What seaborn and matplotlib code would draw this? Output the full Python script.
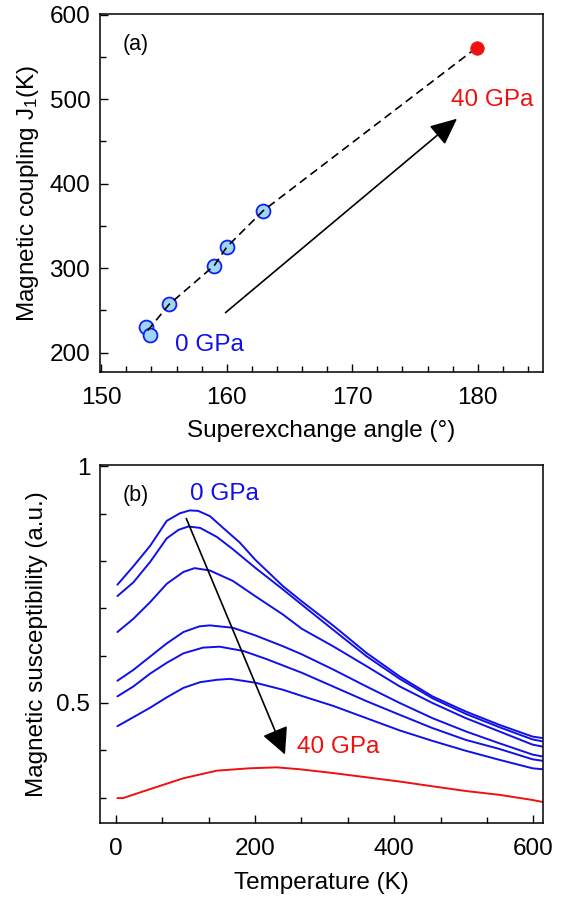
import numpy as np
import pandas as pd
import seaborn as sns
import matplotlib.pyplot as plt
from matplotlib.ticker import MultipleLocator, FixedLocator

# --- panel (a): J1 vs superexchange angle ---
angle = [153.55, 153.86, 155.4, 159.0, 160.0, 162.9]
j1 = [230, 221, 257, 303, 325, 368]
angle_40 = [179.9]
j1_40 = [561]

# dashed guide through points (ordered)
guide_angle = [153.7, 155.4, 159.0, 160.0, 162.9, 179.9]
guide_j1 = [226, 257, 303, 325, 368, 561]

# --- panel (b): susceptibility vs temperature ---
T1 = [2, 25, 49, 73, 92, 106, 118, 135, 154, 178, 200, 240, 267, 312, 360, 408, 455, 503, 551, 599, 613]
chi1 = [0.750, 0.789, 0.832, 0.885, 0.901, 0.907, 0.906, 0.895, 0.870, 0.839, 0.803, 0.747, 0.715, 0.664,
        0.606, 0.556, 0.514, 0.482, 0.454, 0.429, 0.426]
T2 = [2, 25, 49, 73, 90, 104, 121, 145, 168, 200, 240, 267, 312, 360, 408, 455, 503, 551, 599, 613]
chi2 = [0.726, 0.755, 0.798, 0.848, 0.866, 0.873, 0.870, 0.851, 0.825, 0.786, 0.740, 0.708, 0.655, 0.599,
        0.551, 0.510, 0.477, 0.449, 0.423, 0.419]
T3 = [2, 25, 49, 73, 97, 113, 135, 168, 200, 240, 267, 312, 360, 408, 455, 503, 551, 599, 613]
chi3 = [0.650, 0.678, 0.713, 0.752, 0.777, 0.785, 0.780, 0.758, 0.726, 0.687, 0.657, 0.620, 0.578,
        0.535, 0.500, 0.468, 0.440, 0.412, 0.408]
T4 = [2, 25, 49, 73, 97, 120, 135, 168, 200, 240, 267, 312, 360, 408, 455, 503, 551, 599, 613]
chi4 = [0.547, 0.570, 0.598, 0.626, 0.650, 0.662, 0.664, 0.659, 0.643, 0.620, 0.603, 0.571, 0.535,
        0.500, 0.468, 0.440, 0.415, 0.391, 0.387]
T5 = [2, 25, 49, 73, 97, 125, 149, 183, 216, 267, 312, 360, 408, 455, 503, 551, 599, 613]
chi5 = [0.514, 0.535, 0.562, 0.585, 0.605, 0.617, 0.619, 0.610, 0.593, 0.564, 0.535, 0.504, 0.475,
        0.447, 0.422, 0.403, 0.381, 0.378]
T6 = [2, 25, 49, 73, 97, 121, 145, 164, 200, 240, 267, 312, 360, 408, 455, 503, 551, 599, 613]
chi6 = [0.451, 0.470, 0.490, 0.512, 0.532, 0.544, 0.549, 0.551, 0.543, 0.528, 0.515, 0.494, 0.468,
        0.442, 0.420, 0.399, 0.380, 0.362, 0.360]
T40 = [2, 10, 49, 97, 145, 192, 231, 264, 312, 360, 408, 455, 503, 551, 599, 613]
chi40 = [0.299, 0.299, 0.318, 0.341, 0.357, 0.362, 0.364, 0.360, 0.352, 0.343, 0.334, 0.324, 0.314,
         0.306, 0.295, 0.291]

curves = [("c1", T1, chi1), ("c2", T2, chi2), ("c3", T3, chi3), ("c4", T4, chi4),
          ("c5", T5, chi5), ("c6", T6, chi6), ("c40", T40, chi40)]
rows = []
for name, ts, cs in curves:
    for t, c in zip(ts, cs):
        rows.append({"curve": name, "T": t, "chi": c})
df_b = pd.DataFrame(rows)
palette = {"c1": "#1010e8", "c2": "#1010e8", "c3": "#1010e8", "c4": "#1010e8",
           "c5": "#1010e8", "c6": "#1010e8", "c40": "#f01010"}

sns.set_theme(style="ticks")
plt.rcParams['font.family'] = ['Liberation Sans', 'DejaVu Sans']
plt.rcParams['mathtext.fontset'] = 'custom'
plt.rcParams['mathtext.rm'] = 'Liberation Sans'
plt.rcParams['mathtext.it'] = 'Liberation Sans:italic'
plt.rcParams['axes.linewidth'] = 1.1
for key in ('text.color', 'axes.labelcolor', 'xtick.color', 'ytick.color', 'axes.edgecolor'):
    plt.rcParams[key] = 'black'

fs = 17.5
fig = plt.figure(figsize=(5.67, 9.02), dpi=100)
ax1 = fig.add_axes([0.1764, 0.5876, 0.7813, 0.3969])
ax2 = fig.add_axes([0.1764, 0.0879, 0.7813, 0.3966])

# panel (a)
ax1.plot(guide_angle, guide_j1, color="black", lw=1.2, ls=(0, (5, 3)), zorder=4)
sns.scatterplot(x=angle, y=j1, ax=ax1, s=100, color="#9fd6f7", edgecolor="#1020f0",
                linewidth=1.3, zorder=3)
sns.scatterplot(x=angle_40, y=j1_40, ax=ax1, s=95, color="#f01010", edgecolor="#f01010",
                linewidth=0.5, zorder=5)
ax1.annotate("", xy=(178.35, 477), xytext=(159.9, 247.3),
             arrowprops=dict(arrowstyle="-|>,head_length=1.1,head_width=0.5", mutation_scale=15,
                             color="black", lw=1.2, shrinkA=0, shrinkB=0))
ax1.text(177.9, 499, "40 GPa", color="#f01010", fontsize=fs, va="center", ha="left")
ax1.text(155.9, 209, "0 GPa", color="#1010e8", fontsize=fs, va="center", ha="left")
ax1.text(0.05, 0.915, "(a)", transform=ax1.transAxes, fontsize=15.5, va="center", ha="left")
ax1.set_xlim(149.9, 185.2)
ax1.set_ylim(177, 601)
ax1.xaxis.set_major_locator(FixedLocator([150, 160, 170, 180]))
ax1.xaxis.set_minor_locator(MultipleLocator(2))
ax1.yaxis.set_major_locator(MultipleLocator(100))
ax1.yaxis.set_minor_locator(MultipleLocator(50))
ax1.set_xlabel("Superexchange angle (°)", fontsize=fs, labelpad=7.5)
ax1.set_ylabel(r"Magnetic coupling J$_{\rm 1}$(K)", fontsize=fs, labelpad=6)

# panel (b)
sns.lineplot(data=df_b, x="T", y="chi", hue="curve", palette=palette, ax=ax2,
             estimator=None, sort=False, lw=1.4, legend=False)
ax2.annotate("", xy=(243, 0.391), xytext=(101, 0.890),
             arrowprops=dict(arrowstyle="-|>,head_length=1.1,head_width=0.55", mutation_scale=15,
                             color="black", lw=1.2, shrinkA=0, shrinkB=0))
ax2.text(106, 0.941, "0 GPa", color="#1010e8", fontsize=fs, va="center", ha="left")
ax2.text(260, 0.408, "40 GPa", color="#f01010", fontsize=fs, va="center", ha="left")
ax2.text(0.05, 0.915, "(b)", transform=ax2.transAxes, fontsize=15.5, va="center", ha="left")
ax2.set_xlim(-23, 614)
ax2.set_ylim(0.247, 1.003)
ax2.xaxis.set_major_locator(FixedLocator([0, 200, 400, 600]))
ax2.xaxis.set_minor_locator(MultipleLocator(200 / 3))
ax2.yaxis.set_major_locator(FixedLocator([0.5, 1.0]))
ax2.yaxis.set_minor_locator(FixedLocator([0.3, 0.4, 0.6, 0.7, 0.8, 0.9]))
ax2.set_yticklabels(["0.5", "1"])
ax2.set_xlabel("Temperature (K)", fontsize=fs, labelpad=8.5)
ax2.set_ylabel("Magnetic susceptibility (a.u.)", fontsize=fs, labelpad=6)

for ax in (ax1, ax2):
    for sp in ax.spines.values():
        sp.set_visible(True)
        sp.set_color("black")
    ax.tick_params(which="both", direction="in", top=False, right=False, labelsize=fs,
                   color="black", width=1.0)
    ax.tick_params(which="major", length=6)
    ax.tick_params(which="minor", length=4)
    ax.tick_params(axis="x", which="major", pad=11)
    ax.tick_params(axis="y", which="major", pad=7)

fig.savefig("out.png", dpi=100)
